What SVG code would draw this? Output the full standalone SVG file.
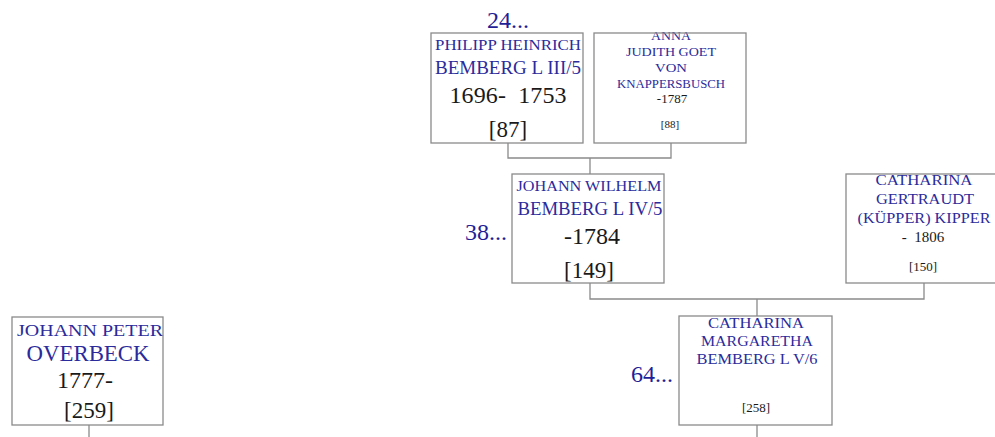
<svg xmlns="http://www.w3.org/2000/svg" width="995" height="437" viewBox="0 0 995 437">
<style>
.box{fill:none;stroke:#8a8a8a;stroke-width:1.3}
.ln{fill:none;stroke:#8a8a8a;stroke-width:1.3}
text{font-family:"Liberation Serif","DejaVu Serif",serif;text-anchor:middle}
.nm{fill:#2b2b9b}
.bk{fill:#1a1a1a}
.more{fill:#1f1f96;font-size:24px}
</style>
<rect width="995" height="437" fill="#fff"/>
<g id="connectors">
<path class="ln" d="M508 143V158H671V143M590 158V174"/>
<path class="ln" d="M590 283V299H924V283M757 299V316"/>
<path class="ln" d="M757 425V437"/>
<path class="ln" d="M89 425V437"/>
</g>
<g id="n87">
<text class="more" x="508" y="28">24...</text>
<text class="nm" x="508" y="50" font-size="15" textLength="146" lengthAdjust="spacingAndGlyphs">PHILIPP HEINRICH</text>
<text class="nm" x="508" y="74" font-size="18" textLength="146" lengthAdjust="spacingAndGlyphs">BEMBERG L III/5</text>
<text class="bk" x="508" y="103" font-size="24" textLength="117" xml:space="preserve">1696-  1753</text>
<text class="bk" x="508" y="137" font-size="23">[87]</text>
<rect class="box" x="431" y="33" width="152" height="110"/>
</g>
<g id="n88">
<text class="nm" x="671" y="40" font-size="12.5" textLength="40" lengthAdjust="spacingAndGlyphs">ANNA</text>
<text class="nm" x="671" y="56" font-size="12.5" textLength="90" lengthAdjust="spacingAndGlyphs">JUDITH GOET</text>
<text class="nm" x="671" y="72" font-size="12.5" textLength="32" lengthAdjust="spacingAndGlyphs">VON</text>
<text class="nm" x="671" y="88" font-size="12.5" textLength="108" lengthAdjust="spacingAndGlyphs">KNAPPERSBUSCH</text>
<text class="bk" x="672" y="103" font-size="13">-1787</text>
<text class="bk" x="670" y="128" font-size="11">[88]</text>
<rect class="box" x="594" y="33" width="152" height="110"/>
</g>
<g id="n149">
<text class="more" x="486" y="240">38...</text>
<text class="nm" x="589" y="191" font-size="15" textLength="145" lengthAdjust="spacingAndGlyphs">JOHANN WILHELM</text>
<text class="nm" x="590" y="215" font-size="18" textLength="145" lengthAdjust="spacingAndGlyphs">BEMBERG L IV/5</text>
<text class="bk" x="592" y="244" font-size="24">-1784</text>
<text class="bk" x="589" y="278" font-size="23">[149]</text>
<rect class="box" x="512" y="174" width="152" height="109"/>
</g>
<g id="n150">
<text class="nm" x="924" y="185" font-size="15" textLength="97" lengthAdjust="spacingAndGlyphs">CATHARINA</text>
<text class="nm" x="925" y="204" font-size="15" textLength="98" lengthAdjust="spacingAndGlyphs">GERTRAUDT</text>
<text class="nm" x="924" y="223" font-size="15" textLength="133" lengthAdjust="spacingAndGlyphs">(KÜPPER) KIPPER</text>
<text class="bk" x="923" y="242" font-size="15" xml:space="preserve">-  1806</text>
<text class="bk" x="923" y="271" font-size="13">[150]</text>
<rect class="box" x="846" y="174" width="152" height="109"/>
</g>
<g id="n258">
<text class="more" x="652" y="382">64...</text>
<text class="nm" x="756" y="328" font-size="14.5" textLength="96" lengthAdjust="spacingAndGlyphs">CATHARINA</text>
<text class="nm" x="757" y="346" font-size="14.5" textLength="112" lengthAdjust="spacingAndGlyphs">MARGARETHA</text>
<text class="nm" x="757" y="364" font-size="14.5" textLength="121" lengthAdjust="spacingAndGlyphs">BEMBERG L V/6</text>
<text class="bk" x="756" y="412" font-size="13">[258]</text>
<rect class="box" x="679" y="316" width="153" height="109"/>
</g>
<g id="n259">
<text class="nm" x="90" y="336" font-size="17" textLength="146" lengthAdjust="spacingAndGlyphs">JOHANN PETER</text>
<text class="nm" x="88" y="361" font-size="23" textLength="123" lengthAdjust="spacingAndGlyphs">OVERBECK</text>
<text class="bk" x="85" y="388" font-size="24">1777-</text>
<text class="bk" x="89" y="418" font-size="23">[259]</text>
<rect class="box" x="12" y="317" width="151" height="108"/>
</g>
</svg>
